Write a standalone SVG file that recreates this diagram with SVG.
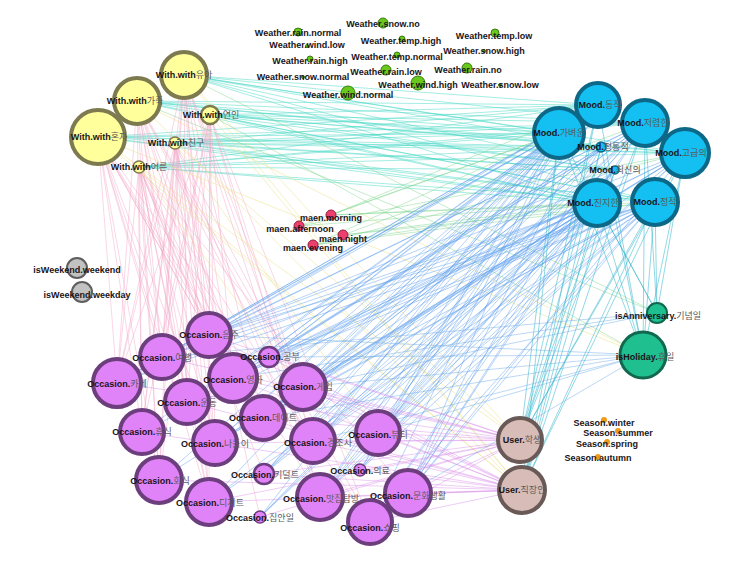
<svg xmlns="http://www.w3.org/2000/svg" width="747" height="564" viewBox="0 0 747 564">
<style>
text{font-family:"Liberation Sans","Noto Sans CJK KR",Arial,sans-serif;font-size:9px;font-weight:bold;fill:#1a1418;text-anchor:middle}
.k{font-weight:normal;fill:#5a5a5a}
.e{fill:none;stroke-width:0.75}
.wm{stroke:#46d8c6;opacity:.65}
.wo{stroke:#f2a6c6;opacity:.6}
.wu{stroke:#ece28e;opacity:.7}
.mo{stroke:#5a9cf0;opacity:.6}
.ou{stroke:#d88ce8;opacity:.6}
.mu{stroke:#2fb4cc;opacity:.7}
.oh{stroke:#6aa8e6;opacity:.6}
.gr{stroke:#7cd48a;opacity:.6}
.w{fill:#ffff9c;stroke:#7c7a4e;stroke-width:4}
.m{fill:#14bff2;stroke:#0d6787;stroke-width:4}
.o{fill:#e183f8;stroke:#6c3e7d;stroke-width:4}
.u{fill:#d8bcb7;stroke:#6a5a57;stroke-width:4}
.h{fill:#1fbf90;stroke:#11684f;stroke-width:3}
.wt{fill:#68c81c;stroke:#3c7a10;stroke-width:1}
.mn{fill:#ec3f6e;stroke:#96203e;stroke-width:1}
.g{fill:#c2c2c2;stroke:#5e5e5e;stroke-width:2}
.s{fill:#f29a18}
</style>
<rect width="747" height="564" fill="#ffffff"/>
<g id="connectors">
<path class="e wm" d="M184 75L598 105M184 75L559 133M184 75L645 123M184 75L685 153M184 75L597 203M184 75L655 202M184 75L601 147M184 75L615 170M137 101L598 105M137 101L559 133M137 101L645 123M137 101L685 153M137 101L597 203M137 101L655 202M137 101L601 147M137 101L615 170M98 137L598 105M98 137L559 133M98 137L645 123M98 137L685 153M98 137L597 203M98 137L655 202M98 137L601 147M98 137L615 170M210 115L598 105M210 115L559 133M210 115L645 123M210 115L685 153M210 115L597 203M210 115L655 202M210 115L601 147M210 115L615 170M175 143L598 105M175 143L559 133M175 143L645 123M175 143L685 153M175 143L597 203M175 143L655 202M175 143L601 147M175 143L615 170M139 167L598 105M139 167L559 133M139 167L645 123M139 167L685 153M139 167L597 203M139 167L655 202M139 167L601 147M139 167L615 170"/>
<path class="e wo" d="M184 75L209 335M184 75L117 383M184 75L187 402M184 75L142 432M184 75L159 480M184 75L209 502M184 75L313 441M184 75L320 497M137 101L162 357M137 101L233 378M137 101L142 432M137 101L215 443M137 101L159 480M137 101L370 522M137 101L303 387M137 101L263 418M98 137L209 335M98 137L117 383M98 137L187 402M98 137L215 443M98 137L209 502M98 137L320 497M98 137L162 357M98 137L159 480M210 115L162 357M210 115L233 378M210 115L142 432M210 115L313 441M210 115L209 502M210 115L370 522M210 115L117 383M210 115L159 480M175 143L209 335M175 143L117 383M175 143L303 387M175 143L215 443M175 143L159 480M175 143L320 497M175 143L142 432M175 143L260 517M139 167L162 357M139 167L233 378M139 167L187 402M139 167L215 443M139 167L209 502M139 167L408 493M139 167L117 383M139 167L264 474M184 75L162 357M184 75L233 378M184 75L215 443M184 75L263 418M184 75L303 387M137 101L209 335M137 101L117 383M137 101L187 402M137 101L209 502M137 101L313 441M98 137L233 378M98 137L142 432M98 137L263 418M98 137L370 522M210 115L209 335M210 115L187 402M210 115L215 443M210 115L320 497M175 143L162 357M175 143L233 378M175 143L187 402M175 143L209 502M139 167L209 335M139 167L142 432M139 167L159 480M139 167L263 418M139 167L313 441"/>
<path class="e wu" d="M184 75L520 440M137 101L522 490M98 137L520 440M210 115L522 490M175 143L520 440M139 167L522 490M98 137L522 490M184 75L522 490M137 101L643 355M98 137L643 355M139 167L360 470M175 143L378 433"/>
<path class="e gr" d="M184 75L657 313M137 101L657 313M210 115L643 355M331 215L559 133M331 215L597 203M331 215L655 202M331 215L598 105M299 226L559 133M299 226L597 203M299 226L685 153M343 235L597 203M343 235L655 202M343 235L645 123M313 245L559 133M313 245L597 203M313 245L655 202M313 245L685 153"/>
<path class="e mo" d="M559 133L209 335M559 133L269 357M559 133L233 378M559 133L303 387M559 133L263 418M559 133L313 441M559 133L378 433M559 133L264 474M559 133L360 470M559 133L320 497M559 133L408 493M559 133L117 383M559 133L142 432M559 133L159 480M559 133L260 517M597 203L209 335M597 203L162 357M597 203L269 357M597 203L233 378M597 203L303 387M597 203L263 418M597 203L215 443M597 203L313 441M597 203L378 433M597 203L264 474M597 203L209 502M597 203L320 497M597 203L408 493M597 203L370 522M597 203L187 402M598 105L209 335M598 105L269 357M598 105L303 387M598 105L263 418M598 105L378 433M598 105L360 470M598 105L408 493M598 105L233 378M645 123L162 357M645 123L233 378M645 123L303 387M645 123L313 441M645 123L264 474M645 123L320 497M645 123L370 522M645 123L260 517M655 202L209 335M655 202L269 357M655 202L303 387M655 202L263 418M655 202L313 441M655 202L378 433M655 202L360 470M655 202L408 493M655 202L117 383M685 153L233 378M685 153L303 387M685 153L378 433M685 153L408 493M685 153L215 443M685 153L320 497M601 147L269 357M601 147L263 418M601 147L264 474M615 170L303 387M615 170L260 517M615 170L360 470M559 133L162 357M559 133L187 402M559 133L215 443M559 133L209 502M559 133L370 522M597 203L117 383M597 203L142 432M597 203L159 480M597 203L260 517M597 203L360 470M598 105L162 357M598 105L117 383M598 105L215 443M598 105L313 441M598 105L264 474M598 105L320 497M645 123L209 335M645 123L269 357M645 123L263 418M645 123L378 433M645 123L408 493M655 202L162 357M655 202L233 378M655 202L215 443M655 202L209 502M655 202L320 497M655 202L370 522M685 153L209 335M685 153L269 357M685 153L263 418M685 153L313 441M601 147L233 378M601 147L303 387M601 147L320 497M601 147L408 493M615 170L209 335M615 170L313 441M615 170L378 433"/>
<path class="e ou" d="M209 335L520 440M269 357L520 440M233 378L520 440M303 387L520 440M263 418L520 440M313 441L520 440M378 433L520 440M264 474L520 440M260 517L520 440M360 470L520 440M320 497L520 440M408 493L520 440M370 522L520 440M215 443L520 440M209 502L520 440M269 357L522 490M303 387L522 490M263 418L522 490M313 441L522 490M378 433L522 490M264 474L522 490M360 470L522 490M320 497L522 490M408 493L522 490M370 522L522 490M209 335L522 490M142 432L522 490M162 357L520 440M117 383L520 440M187 402L522 490M159 480L522 490M209 502L522 490M233 378L522 490"/>
<path class="e mu" d="M559 133L520 440M559 133L522 490M559 133L643 355M597 203L520 440M597 203L522 490M597 203L643 355M597 203L657 313M598 105L520 440M598 105L643 355M645 123L522 490M645 123L657 313M645 123L643 355M655 202L520 440M655 202L522 490M655 202L643 355M655 202L657 313M685 153L643 355M685 153L657 313M685 153L520 440M615 170L522 490M601 147L520 440M685 153L522 490M598 105L522 490M645 123L520 440M559 133L657 313M601 147L522 490M615 170L520 440M601 147L643 355"/>
<path class="e oh" d="M209 335L643 355M269 357L643 355M303 387L643 355M263 418L643 355M378 433L643 355M408 493L643 355M313 441L643 355M233 378L657 313M303 387L657 313M162 357L657 313"/>
</g>
<g id="n-weather-snow-no"><circle class="wt" cx="383" cy="23" r="5"/><text x="383" y="27">Weather.snow.no</text></g>
<g id="n-weather-rain-normal"><circle class="wt" cx="298" cy="32" r="4"/><text x="298" y="36">Weather.rain.normal</text></g>
<g id="n-weather-wind-low"><circle class="wt" cx="307" cy="46" r="1.5"/><text x="307" y="48">Weather.wind.low</text></g>
<g id="n-weather-temp-high"><circle class="wt" cx="402" cy="39" r="3"/><text x="401" y="44">Weather.temp.high</text></g>
<g id="n-weather-temp-low"><circle class="wt" cx="495" cy="33" r="4"/><text x="494" y="39">Weather.temp.low</text></g>
<g id="n-weather-snow-high"><circle class="wt" cx="484" cy="51" r="1.5"/><text x="484" y="54">Weather.snow.high</text></g>
<g id="n-weather-rain-high"><circle class="wt" cx="310" cy="59" r="3"/><text x="310" y="64">Weather.rain.high</text></g>
<g id="n-weather-temp-normal"><circle class="wt" cx="397" cy="55" r="3"/><text x="397" y="60">Weather.temp.normal</text></g>
<g id="n-weather-snow-normal"><circle class="wt" cx="303" cy="77" r="1.5"/><text x="303" y="80">Weather.snow.normal</text></g>
<g id="n-weather-rain-low"><circle class="wt" cx="386" cy="70" r="5"/><text x="386" y="75">Weather.rain.low</text></g>
<g id="n-weather-rain-no"><circle class="wt" cx="467" cy="68" r="5"/><text x="468" y="73">Weather.rain.no</text></g>
<g id="n-weather-wind-high"><circle class="wt" cx="418" cy="83" r="7"/><text x="418" y="88">Weather.wind.high</text></g>
<g id="n-weather-snow-low"><circle class="wt" cx="500" cy="85" r="1.5"/><text x="500" y="88">Weather.snow.low</text></g>
<g id="n-weather-wind-normal"><circle class="wt" cx="348" cy="93" r="7"/><text x="348" y="98">Weather.wind.normal</text></g>
<g id="n-with-1"><circle class="w" cx="184" cy="75" r="23"/><text x="184" y="78">With.with<tspan class="k">유아</tspan></text></g>
<g id="n-with-2"><circle class="w" cx="137" cy="101" r="23"/><text x="135" y="104">With.with<tspan class="k">가족</tspan></text></g>
<g id="n-with-3"><circle class="w" cx="98" cy="137" r="27"/><text x="99" y="140">With.with<tspan class="k">혼자</tspan></text></g>
<g id="n-with-4"><circle class="w" cx="210" cy="115" r="9" style="stroke-width:2.5"/><text x="211" y="118">With.with<tspan class="k">연인</tspan></text></g>
<g id="n-with-5"><circle class="w" cx="175" cy="143" r="6" style="stroke-width:1.5"/><text x="176" y="146">With.with<tspan class="k">친구</tspan></text></g>
<g id="n-with-6"><circle class="w" cx="139" cy="167" r="6" style="stroke-width:1.5"/><text x="139" y="170">With.with<tspan class="k">어른</tspan></text></g>
<g id="n-mood-1"><circle class="m" cx="598" cy="105" r="22"/><text x="600" y="108">Mood.<tspan class="k">동적</tspan></text></g>
<g id="n-mood-2"><circle class="m" cx="559" cy="133" r="25"/><text x="559" y="136">Mood.<tspan class="k">가벼운</tspan></text></g>
<g id="n-mood-3"><circle class="m" cx="645" cy="123" r="23"/><text x="643" y="126">Mood.<tspan class="k">저렴한</tspan></text></g>
<g id="n-mood-4"><circle class="m" cx="601" cy="147" r="5" style="stroke-width:1.5"/><text x="603" y="150">Mood.<tspan class="k">정통적</tspan></text></g>
<g id="n-mood-5"><circle class="m" cx="685" cy="153" r="24"/><text x="681" y="156">Mood.<tspan class="k">고급의</tspan></text></g>
<g id="n-mood-6"><circle class="m" cx="615" cy="170" r="4" style="stroke-width:1.5"/><text x="615" y="173">Mood.<tspan class="k">최신의</tspan></text></g>
<g id="n-mood-7"><circle class="m" cx="597" cy="203" r="23"/><text x="593" y="206">Mood.<tspan class="k">진지한</tspan></text></g>
<g id="n-mood-8"><circle class="m" cx="655" cy="202" r="23"/><text x="655" y="205">Mood.<tspan class="k">정적</tspan></text></g>
<g id="n-maen-morning"><circle class="mn" cx="331" cy="215" r="5"/><text x="331" y="221">maen.morning</text></g>
<g id="n-maen-afternoon"><circle class="mn" cx="299" cy="226" r="5"/><text x="300" y="232">maen.afternoon</text></g>
<g id="n-maen-night"><circle class="mn" cx="343" cy="235" r="5"/><text x="343" y="242">maen.night</text></g>
<g id="n-maen-evening"><circle class="mn" cx="313" cy="245" r="5"/><text x="313" y="251">maen.evening</text></g>
<g id="n-weekend"><circle class="g" cx="77" cy="268" r="10"/><text x="77" y="273">isWeekend.weekend</text></g>
<g id="n-weekday"><circle class="g" cx="82" cy="292" r="10"/><text x="87" y="298">isWeekend.weekday</text></g>
<g id="n-anniversary"><circle class="h" cx="657" cy="313" r="10" style="stroke-width:2"/><text x="658" y="319">isAnniversary.<tspan class="k">기념일</tspan></text></g>
<g id="n-holiday"><circle class="h" cx="643" cy="355" r="23"/><text x="645" y="360">isHoliday.<tspan class="k">휴일</tspan></text></g>
<g id="n-user-1"><circle class="u" cx="520" cy="440" r="22"/><text x="522" y="443">User.<tspan class="k">학생</tspan></text></g>
<g id="n-user-2"><circle class="u" cx="522" cy="490" r="23"/><text x="522" y="493">User.<tspan class="k">직장인</tspan></text></g>
<g id="n-season-winter"><circle class="s" cx="604" cy="420" r="3"/><text x="604" y="426">Season.winter</text></g>
<g id="n-season-summer"><circle class="s" cx="618" cy="431" r="3"/><text x="618" y="436">Season.summer</text></g>
<g id="n-season-spring"><circle class="s" cx="607" cy="442" r="3"/><text x="607" y="447">Season.spring</text></g>
<g id="n-season-autumn"><circle class="s" cx="598" cy="457" r="3"/><text x="598" y="461">Season.autumn</text></g>
<g id="n-occ-1"><circle class="o" cx="209" cy="335" r="22"/><text x="209" y="338">Occasion.<tspan class="k">음주</tspan></text></g>
<g id="n-occ-2"><circle class="o" cx="162" cy="357" r="22"/><text x="162" y="361">Occasion.<tspan class="k">여행</tspan></text></g>
<g id="n-occ-4"><circle class="o" cx="117" cy="383" r="24"/><text x="117" y="387">Occasion.<tspan class="k">카페</tspan></text></g>
<g id="n-occ-5"><circle class="o" cx="233" cy="378" r="24"/><text x="233" y="383">Occasion.<tspan class="k">영화</tspan></text></g>
<g id="n-occ-3"><circle class="o" cx="269" cy="357" r="10" style="stroke-width:2.5"/><text x="270" y="360">Occasion.<tspan class="k">공부</tspan></text></g>
<g id="n-occ-6"><circle class="o" cx="303" cy="387" r="23"/><text x="303" y="390">Occasion.<tspan class="k">게임</tspan></text></g>
<g id="n-occ-7"><circle class="o" cx="187" cy="402" r="22"/><text x="187" y="406">Occasion.<tspan class="k">운동</tspan></text></g>
<g id="n-occ-8"><circle class="o" cx="263" cy="418" r="22"/><text x="263" y="421">Occasion.<tspan class="k">데이트</tspan></text></g>
<g id="n-occ-9"><circle class="o" cx="142" cy="432" r="22"/><text x="142" y="435">Occasion.<tspan class="k">휴식</tspan></text></g>
<g id="n-occ-10"><circle class="o" cx="215" cy="443" r="22"/><text x="215" y="447">Occasion.<tspan class="k">나들이</tspan></text></g>
<g id="n-occ-11"><circle class="o" cx="313" cy="441" r="22"/><text x="318" y="446">Occasion.<tspan class="k">경조사</tspan></text></g>
<g id="n-occ-12"><circle class="o" cx="378" cy="433" r="22"/><text x="378" y="438">Occasion.<tspan class="k">뷰티</tspan></text></g>
<g id="n-occ-14"><circle class="o" cx="159" cy="480" r="23"/><text x="160" y="484">Occasion.<tspan class="k">회식</tspan></text></g>
<g id="n-occ-13"><circle class="o" cx="264" cy="474" r="10" style="stroke-width:2.5"/><text x="265" y="478">Occasion.<tspan class="k">키덜트</tspan></text></g>
<g id="n-occ-17"><circle class="o" cx="360" cy="470" r="6" style="stroke-width:1.5"/><text x="360" y="474">Occasion.<tspan class="k">의료</tspan></text></g>
<g id="n-occ-15"><circle class="o" cx="209" cy="502" r="23"/><text x="210" y="506">Occasion.<tspan class="k">디저트</tspan></text></g>
<g id="n-occ-18"><circle class="o" cx="320" cy="497" r="23"/><text x="321" y="502">Occasion.<tspan class="k">맛집탐방</tspan></text></g>
<g id="n-occ-19"><circle class="o" cx="408" cy="493" r="23"/><text x="408" y="499">Occasion.<tspan class="k">문화생활</tspan></text></g>
<g id="n-occ-20"><circle class="o" cx="370" cy="522" r="22"/><text x="370" y="531">Occasion.<tspan class="k">쇼핑</tspan></text></g>
<g id="n-occ-16"><circle class="o" cx="260" cy="517" r="6" style="stroke-width:1.5"/><text x="260" y="521">Occasion.<tspan class="k">집안일</tspan></text></g>
</svg>
